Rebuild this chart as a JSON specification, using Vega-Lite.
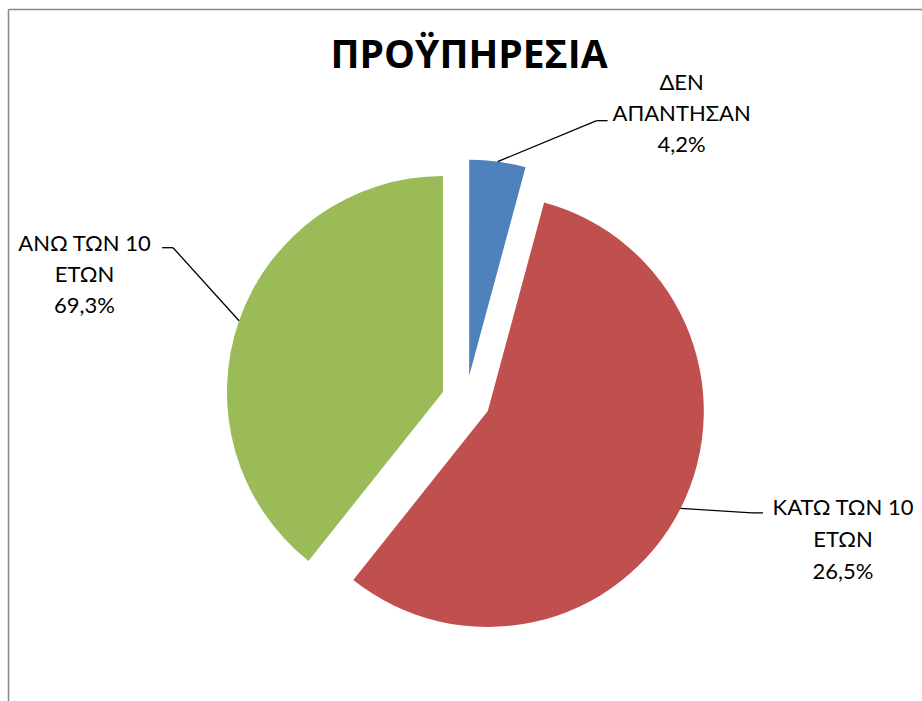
{
  "$schema": "https://vega.github.io/schema/vega-lite/v6.json",
  "width": 914,
  "height": 692,
  "autosize": {"type": "none"},
  "padding": {"left": 8, "top": 9, "right": 0, "bottom": 0},
  "background": "white",
  "config": {"view": {"stroke": null}, "font": "Lato"},
  "title": {"text": "ΠΡΟΫΠΗΡΕΣΙΑ", "font": "Open Sans", "fontSize": 39, "fontWeight": "bold", "color": "#000000", "anchor": "middle", "frame": "group", "orient": "top", "offset": -98, "baseline": "alphabetic", "dx": 4},
  "data": {"values": [
    {"category": "ΔΕΝ ΑΠΑΝΤΗΣΑΝ", "value": 4.2, "label": ["ΔΕΝ", "ΑΠΑΝΤΗΣΑΝ", "4,2%"]},
    {"category": "ΚΑΤΩ ΤΩΝ 10 ΕΤΩΝ", "value": 56.5, "label": ["ΚΑΤΩ ΤΩΝ 10", "ΕΤΩΝ", "26,5%"]},
    {"category": "ΑΝΩ ΤΩΝ 10 ΕΤΩΝ", "value": 39.3, "label": ["ΑΝΩ ΤΩΝ 10", "ΕΤΩΝ", "69,3%"]}
  ]},
  "transform": [
    {"stack": "value", "groupby": [], "as": ["v0", "v1"]},
    {"calculate": "PI*(datum.v0+datum.v1)/100", "as": "mid"},
    {"calculate": "0.113*sin(datum.mid)", "as": "cx"},
    {"calculate": "0.113*cos(datum.mid)", "as": "cy"},
    {"calculate": "datum.cx+sin(datum.mid)", "as": "sx"},
    {"calculate": "datum.cy+cos(datum.mid)", "as": "sy"}
  ],
  "layer": [
    {
      "mark": {"type": "arc", "outerRadius": 216},
      "encoding": {
        "x": {"field": "cx", "type": "quantitative", "scale": {"domain": [-2.12037, 2.11111], "nice": false, "zero": false}, "axis": {"orient": "top", "domain": true, "domainColor": "#888888", "domainWidth": 1.5, "ticks": false, "labels": false, "grid": false, "title": null}},
        "y": {"field": "cy", "type": "quantitative", "scale": {"domain": [-1.39352, 1.81019], "nice": false, "zero": false}, "axis": {"orient": "left", "domain": true, "domainColor": "#888888", "domainWidth": 1.5, "ticks": false, "labels": false, "grid": false, "title": null}},
        "theta": {"field": "v0", "type": "quantitative", "scale": {"domain": [0, 100]}},
        "theta2": {"field": "v1"},
        "color": {"field": "category", "type": "nominal", "scale": {"domain": ["ΔΕΝ ΑΠΑΝΤΗΣΑΝ", "ΚΑΤΩ ΤΩΝ 10 ΕΤΩΝ", "ΑΝΩ ΤΩΝ 10 ΕΤΩΝ"], "range": ["#4F81BD", "#C0504D", "#9BBB59"]}, "legend": null}
      }
    },
    {
      "transform": [{"filter": "datum.category === 'ΔΕΝ ΑΠΑΝΤΗΣΑΝ'"}],
      "layer": [
        {"mark": {"type": "rule", "x2Offset": 99, "y2Offset": -41, "color": "#000000", "strokeWidth": 1.3},
         "encoding": {
           "x": {"field": "sx", "type": "quantitative", "scale": {"domain": [-2.12037, 2.11111], "nice": false, "zero": false}, "axis": {"orient": "top", "domain": true, "domainColor": "#888888", "domainWidth": 1.5, "ticks": false, "labels": false, "grid": false, "title": null}},
           "y": {"field": "sy", "type": "quantitative", "scale": {"domain": [-1.39352, 1.81019], "nice": false, "zero": false}, "axis": {"orient": "left", "domain": true, "domainColor": "#888888", "domainWidth": 1.5, "ticks": false, "labels": false, "grid": false, "title": null}},
           "x2": {"field": "sx"}, "y2": {"field": "sy"}}},
        {"mark": {"type": "rule", "xOffset": 99, "yOffset": -41, "x2Offset": 110, "y2Offset": -41, "color": "#000000", "strokeWidth": 1.3},
         "encoding": {
           "x": {"field": "sx", "type": "quantitative", "scale": {"domain": [-2.12037, 2.11111], "nice": false, "zero": false}, "axis": {"orient": "top", "domain": true, "domainColor": "#888888", "domainWidth": 1.5, "ticks": false, "labels": false, "grid": false, "title": null}},
           "y": {"field": "sy", "type": "quantitative", "scale": {"domain": [-1.39352, 1.81019], "nice": false, "zero": false}, "axis": {"orient": "left", "domain": true, "domainColor": "#888888", "domainWidth": 1.5, "ticks": false, "labels": false, "grid": false, "title": null}},
           "x2": {"field": "sx"}, "y2": {"field": "sy"}}},
        {"mark": {"type": "text", "dx": 184, "dy": -79, "align": "center", "baseline": "middle", "font": "Lato", "fontSize": 22, "lineHeight": 31, "color": "#000000"},
         "encoding": {
           "x": {"field": "sx", "type": "quantitative", "scale": {"domain": [-2.12037, 2.11111], "nice": false, "zero": false}, "axis": {"orient": "top", "domain": true, "domainColor": "#888888", "domainWidth": 1.5, "ticks": false, "labels": false, "grid": false, "title": null}},
           "y": {"field": "sy", "type": "quantitative", "scale": {"domain": [-1.39352, 1.81019], "nice": false, "zero": false}, "axis": {"orient": "left", "domain": true, "domainColor": "#888888", "domainWidth": 1.5, "ticks": false, "labels": false, "grid": false, "title": null}},
           "text": {"field": "label"}}}
      ]
    },
    {
      "transform": [{"filter": "datum.category === 'ΚΑΤΩ ΤΩΝ 10 ΕΤΩΝ'"}],
      "layer": [
        {"mark": {"type": "rule", "x2Offset": 71.5, "y2Offset": 4.4, "color": "#000000", "strokeWidth": 1.3},
         "encoding": {
           "x": {"field": "sx", "type": "quantitative", "scale": {"domain": [-2.12037, 2.11111], "nice": false, "zero": false}, "axis": {"orient": "top", "domain": true, "domainColor": "#888888", "domainWidth": 1.5, "ticks": false, "labels": false, "grid": false, "title": null}},
           "y": {"field": "sy", "type": "quantitative", "scale": {"domain": [-1.39352, 1.81019], "nice": false, "zero": false}, "axis": {"orient": "left", "domain": true, "domainColor": "#888888", "domainWidth": 1.5, "ticks": false, "labels": false, "grid": false, "title": null}},
           "x2": {"field": "sx"}, "y2": {"field": "sy"}}},
        {"mark": {"type": "rule", "xOffset": 71.5, "yOffset": 4.4, "x2Offset": 82.5, "y2Offset": 4.4, "color": "#000000", "strokeWidth": 1.3},
         "encoding": {
           "x": {"field": "sx", "type": "quantitative", "scale": {"domain": [-2.12037, 2.11111], "nice": false, "zero": false}, "axis": {"orient": "top", "domain": true, "domainColor": "#888888", "domainWidth": 1.5, "ticks": false, "labels": false, "grid": false, "title": null}},
           "y": {"field": "sy", "type": "quantitative", "scale": {"domain": [-1.39352, 1.81019], "nice": false, "zero": false}, "axis": {"orient": "left", "domain": true, "domainColor": "#888888", "domainWidth": 1.5, "ticks": false, "labels": false, "grid": false, "title": null}},
           "x2": {"field": "sx"}, "y2": {"field": "sy"}}},
        {"mark": {"type": "text", "dx": 162.5, "dy": -0.5, "align": "center", "baseline": "middle", "font": "Lato", "fontSize": 22, "lineHeight": 32, "color": "#000000"},
         "encoding": {
           "x": {"field": "sx", "type": "quantitative", "scale": {"domain": [-2.12037, 2.11111], "nice": false, "zero": false}, "axis": {"orient": "top", "domain": true, "domainColor": "#888888", "domainWidth": 1.5, "ticks": false, "labels": false, "grid": false, "title": null}},
           "y": {"field": "sy", "type": "quantitative", "scale": {"domain": [-1.39352, 1.81019], "nice": false, "zero": false}, "axis": {"orient": "left", "domain": true, "domainColor": "#888888", "domainWidth": 1.5, "ticks": false, "labels": false, "grid": false, "title": null}},
           "text": {"field": "label"}}}
      ]
    },
    {
      "transform": [{"filter": "datum.category === 'ΑΝΩ ΤΩΝ 10 ΕΤΩΝ'"}],
      "layer": [
        {"mark": {"type": "rule", "x2Offset": -66, "y2Offset": -73, "color": "#000000", "strokeWidth": 1.3},
         "encoding": {
           "x": {"field": "sx", "type": "quantitative", "scale": {"domain": [-2.12037, 2.11111], "nice": false, "zero": false}, "axis": {"orient": "top", "domain": true, "domainColor": "#888888", "domainWidth": 1.5, "ticks": false, "labels": false, "grid": false, "title": null}},
           "y": {"field": "sy", "type": "quantitative", "scale": {"domain": [-1.39352, 1.81019], "nice": false, "zero": false}, "axis": {"orient": "left", "domain": true, "domainColor": "#888888", "domainWidth": 1.5, "ticks": false, "labels": false, "grid": false, "title": null}},
           "x2": {"field": "sx"}, "y2": {"field": "sy"}}},
        {"mark": {"type": "rule", "xOffset": -66, "yOffset": -73, "x2Offset": -77, "y2Offset": -73, "color": "#000000", "strokeWidth": 1.3},
         "encoding": {
           "x": {"field": "sx", "type": "quantitative", "scale": {"domain": [-2.12037, 2.11111], "nice": false, "zero": false}, "axis": {"orient": "top", "domain": true, "domainColor": "#888888", "domainWidth": 1.5, "ticks": false, "labels": false, "grid": false, "title": null}},
           "y": {"field": "sy", "type": "quantitative", "scale": {"domain": [-1.39352, 1.81019], "nice": false, "zero": false}, "axis": {"orient": "left", "domain": true, "domainColor": "#888888", "domainWidth": 1.5, "ticks": false, "labels": false, "grid": false, "title": null}},
           "x2": {"field": "sx"}, "y2": {"field": "sy"}}},
        {"mark": {"type": "text", "dx": -154.5, "dy": -77, "align": "center", "baseline": "middle", "font": "Lato", "fontSize": 22, "lineHeight": 31, "color": "#000000"},
         "encoding": {
           "x": {"field": "sx", "type": "quantitative", "scale": {"domain": [-2.12037, 2.11111], "nice": false, "zero": false}, "axis": {"orient": "top", "domain": true, "domainColor": "#888888", "domainWidth": 1.5, "ticks": false, "labels": false, "grid": false, "title": null}},
           "y": {"field": "sy", "type": "quantitative", "scale": {"domain": [-1.39352, 1.81019], "nice": false, "zero": false}, "axis": {"orient": "left", "domain": true, "domainColor": "#888888", "domainWidth": 1.5, "ticks": false, "labels": false, "grid": false, "title": null}},
           "text": {"field": "label"}}}
      ]
    }
  ]
}
